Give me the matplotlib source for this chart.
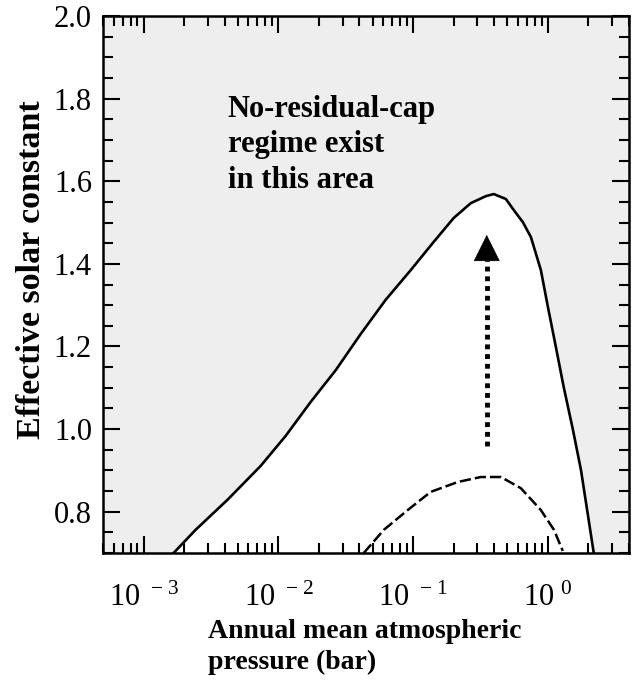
import numpy as np
import matplotlib.pyplot as plt
from matplotlib.ticker import FixedLocator, LogLocator, MultipleLocator, NullFormatter

plt.rcParams['font.family'] = ['Liberation Serif', 'DejaVu Serif']
plt.rcParams['mathtext.fontset'] = 'custom'
plt.rcParams['mathtext.rm'] = 'Liberation Serif'
plt.rcParams['mathtext.default'] = 'regular'

# boundary of the no-residual-cap regime (solid)
solid_p = [1.67e-3, 2.43e-3, 4.2e-3, 7.4e-3, 0.0113, 0.0174, 0.0267, 0.0408,
           0.0626, 0.0961, 0.142, 0.200, 0.268, 0.347, 0.397, 0.488, 0.559,
           0.652, 0.748, 0.887, 1.0, 1.146, 1.31, 1.535, 1.76, 2.19]
solid_s = [0.700, 0.756, 0.829, 0.911, 0.983, 1.066, 1.143, 1.230,
           1.313, 1.385, 1.453, 1.511, 1.547, 1.564, 1.569, 1.557, 1.530,
           1.501, 1.465, 1.385, 1.296, 1.199, 1.102, 0.998, 0.901, 0.700]

# inner boundary (dashed)
dash_p = [0.043, 0.0606, 0.0912, 0.135, 0.215, 0.318, 0.448, 0.630, 0.887, 1.11, 1.29]
dash_s = [0.70, 0.756, 0.804, 0.848, 0.872, 0.884, 0.884, 0.857, 0.804, 0.756, 0.705]

# vertical arrow
arrow_p = 0.352
arrow_from, arrow_to = 0.96, 1.47

xticks = [1e-3, 1e-2, 1e-1, 1e0]
xtick_labels = [r'$10^{\ -3}$', r'$10^{\ -2}$', r'$10^{\ -1}$', r'$10^{\ 0}$']
yticks = [0.8, 1.0, 1.2, 1.4, 1.6, 1.8, 2.0]

fig = plt.figure(figsize=(6.41, 6.88), dpi=100)
ax = fig.add_axes([0.1607, 0.1962, 0.8206, 0.7805])
ax.set_facecolor('#eeeeee')

ax.fill_between(solid_p, 0.7, solid_s, color='white', lw=0, zorder=1)
ax.plot(solid_p, solid_s, color='black', lw=1.9, zorder=3)
ax.plot(dash_p, dash_s, color='black', lw=1.8, dashes=(4.5, 1.6), zorder=3)

ax.plot([arrow_p, arrow_p], [arrow_from, arrow_to - 0.06], color='black', lw=3.5,
        dashes=(1, 1), dash_capstyle='butt', zorder=3)
ax.annotate('', xy=(arrow_p, arrow_to), xytext=(arrow_p, arrow_to - 0.05),
            arrowprops=dict(arrowstyle='-|>,head_length=0.9,head_width=0.45',
                            color='black', lw=0.5, mutation_scale=20,
                            shrinkA=0, shrinkB=0), zorder=4)

ax.text(4.2e-3, 1.81, 'No-residual-cap\nregime exist\nin this area',
        fontsize=22, fontweight='bold', ha='left', va='top', linespacing=1.3)

ax.set_xscale('log')
ax.set_xlim(5e-4, 4)
ax.set_ylim(0.7, 2.0)

ax.xaxis.set_major_locator(FixedLocator(xticks))
ax.set_xticklabels(xtick_labels)
ax.xaxis.set_minor_locator(LogLocator(base=10, subs=np.arange(2, 10)))
ax.xaxis.set_minor_formatter(NullFormatter())
ax.set_yticks(yticks)
ax.set_yticklabels([f'{v:.1f}' for v in yticks])
ax.yaxis.set_minor_locator(MultipleLocator(0.05))

ax.tick_params(which='both', direction='in', top=True, right=True, width=1.5)
ax.tick_params(which='major', length=12)
ax.tick_params(which='minor', length=7)
ax.tick_params(axis='x', which='major', labelsize=22, pad=22)
ax.tick_params(axis='y', which='major', labelsize=22, pad=8)
for s in ax.spines.values():
    s.set_linewidth(1.8)

ax.set_xlabel('Annual mean atmospheric\npressure (bar)', fontsize=20,
              fontweight='bold', ha='left', multialignment='left', linespacing=1.35)
ax.xaxis.set_label_coords(0.1996, -0.122)
ax.set_ylabel('Effective solar constant', fontsize=24.5, fontweight='bold')
ax.yaxis.set_label_coords(-0.106, 0.527)

fig.savefig('out.png', dpi=100)
